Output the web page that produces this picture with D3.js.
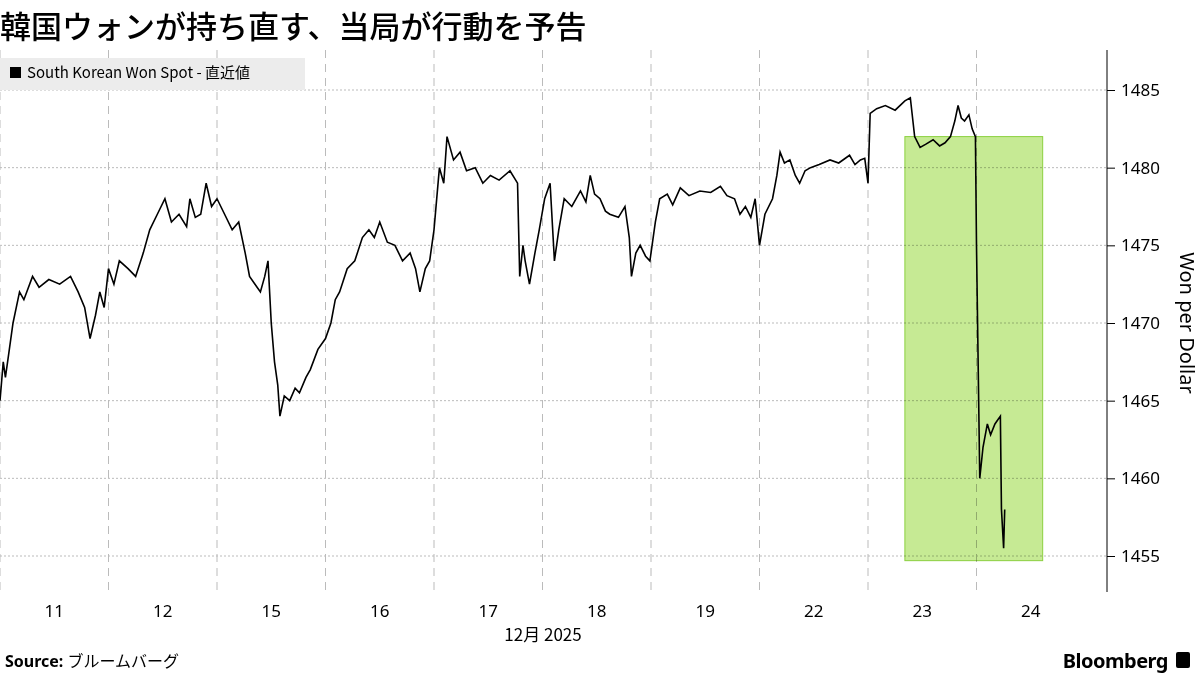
<!DOCTYPE html>
<html><head><meta charset="utf-8">
<script src="https://cdn.jsdelivr.net/npm/d3@7"></script>
<style>body{margin:0;background:#fff;font-family:"Noto Sans CJK JP","Noto Sans",sans-serif}</style>
</head><body><div id="chart"></div>
<script>
// day labels, one per trading day
var days = ["11","12","15","16","17","18","19","22","23","24"];
// price points: [day position (day index + fraction of day), won per dollar]
var d11 = [[0,1465],[0.03,1467.5],[0.05,1466.5],[0.08,1468],[0.12,1470],[0.18,1472],[0.22,1471.5],[0.3,1473],[0.36,1472.3],[0.45,1472.8],[0.55,1472.5],[0.65,1473],[0.72,1472],[0.78,1471],[0.83,1469],[0.88,1470.5],[0.92,1472],[0.96,1471],[1.0,1473.5]];
var d12 = [[1.05,1472.5],[1.1,1474],[1.18,1473.5],[1.25,1473],[1.32,1474.5],[1.38,1476],[1.45,1477],[1.52,1478],[1.58,1476.5],[1.65,1477],[1.72,1476.2],[1.75,1478],[1.8,1476.8],[1.85,1477],[1.9,1479],[1.95,1477.5],[2.0,1478]];
var d15 = [[2.07,1477],[2.14,1476],[2.2,1476.5],[2.26,1474.5],[2.3,1473],[2.35,1472.5],[2.4,1472],[2.44,1473],[2.47,1474],[2.5,1470],[2.53,1467.5],[2.56,1466],[2.58,1464],[2.62,1465.3],[2.67,1465],[2.72,1465.8],[2.76,1465.5],[2.82,1466.5],[2.86,1467],[2.93,1468.3],[3.0,1469]];
var d16 = [[3.05,1470],[3.09,1471.5],[3.13,1472],[3.2,1473.5],[3.27,1474],[3.34,1475.5],[3.4,1476],[3.45,1475.5],[3.5,1476.5],[3.57,1475.2],[3.64,1475],[3.71,1474],[3.78,1474.5],[3.83,1473.5],[3.87,1472],[3.92,1473.5],[3.96,1474],[4.0,1476]];
var d17 = [[4.05,1480],[4.09,1479],[4.12,1482],[4.18,1480.5],[4.24,1481],[4.3,1479.8],[4.38,1480],[4.45,1479],[4.52,1479.5],[4.6,1479.2],[4.7,1479.8],[4.77,1479],[4.79,1473],[4.82,1475],[4.84,1474],[4.88,1472.5],[4.93,1474.5],[4.97,1476],[5.02,1478]];
var d18 = [[5.07,1479],[5.11,1474],[5.15,1476],[5.2,1478],[5.27,1477.5],[5.35,1478.5],[5.4,1477.8],[5.44,1479.5],[5.48,1478.3],[5.53,1478],[5.58,1477.2],[5.62,1477],[5.7,1476.8],[5.76,1477.5],[5.8,1475.5],[5.82,1473],[5.86,1474.5],[5.9,1475],[5.95,1474.3],[5.99,1474]];
var d19 = [[6.04,1476.5],[6.08,1478],[6.15,1478.3],[6.2,1477.6],[6.27,1478.7],[6.35,1478.2],[6.45,1478.5],[6.55,1478.4],[6.64,1478.8],[6.7,1478.2],[6.77,1478],[6.82,1477],[6.87,1477.5],[6.92,1476.8],[6.96,1478],[7.0,1475]];
var d22 = [[7.05,1477],[7.12,1478],[7.16,1479.5],[7.19,1481],[7.23,1480.3],[7.28,1480.5],[7.33,1479.5],[7.37,1479],[7.42,1479.8],[7.47,1480],[7.55,1480.2],[7.65,1480.5],[7.73,1480.3],[7.83,1480.8],[7.88,1480.2],[7.93,1480.5],[7.97,1480.6],[8.0,1479]];
var d23 = [[8.02,1483.5],[8.08,1483.8],[8.16,1484],[8.25,1483.7],[8.34,1484.3],[8.39,1484.5],[8.43,1482],[8.48,1481.3],[8.53,1481.5],[8.6,1481.8],[8.66,1481.4],[8.71,1481.6],[8.76,1482],[8.8,1483],[8.83,1484],[8.86,1483.2],[8.89,1483],[8.93,1483.4],[8.96,1482.5],[8.99,1482]];
var d24 = [[9.0,1475],[9.01,1470],[9.03,1460],[9.06,1462],[9.1,1463.5],[9.13,1462.8],[9.17,1463.5],[9.2,1463.8],[9.22,1464],[9.23,1458],[9.25,1455.5],[9.26,1458]];
var series = d11.concat(d12,d15,d16,d17,d18,d19,d22,d23,d24);
var yTicks = [1455,1460,1465,1470,1475,1480,1485];
var highlight = {x0:8.34, x1:9.61, y0:1454.7, y1:1482};

var w = 1200, h = 675;
var svg = d3.select("#chart").append("svg").attr("width",w).attr("height",h);

var x = d3.scaleLinear().domain([0,10]).range([0,1085]);
var y = d3.scaleLinear().domain([1455,1485]).range([556,90]);

svg.append("text").attr("x",0).attr("y",38).attr("font-size",31).attr("font-weight",500).attr("fill","#000")
   .text("韓国ウォンが持ち直す、当局が行動を予告");

// grid
svg.selectAll(".hg").data(yTicks).enter().append("line")
   .attr("x1",0).attr("x2",1107).attr("y1",d=>y(d)).attr("y2",d=>y(d))
   .attr("stroke","#bbb").attr("stroke-dasharray","2,2");
svg.selectAll(".vg").data(d3.range(0,10)).enter().append("line")
   .attr("x1",d=>x(d)).attr("x2",d=>x(d)).attr("y1",50).attr("y2",592)
   .attr("stroke","#bbb").attr("stroke-dasharray","8,6");

// legend
svg.append("rect").attr("x",0).attr("y",58).attr("width",305).attr("height",32).attr("fill","#ececec");
svg.append("rect").attr("x",10).attr("y",67).attr("width",11).attr("height",11).attr("fill","#000");
svg.append("text").attr("x",27).attr("y",78).attr("font-size",15).text("South Korean Won Spot - 直近値");

// line
var line = d3.line().x(d=>x(d[0])).y(d=>y(d[1]));
svg.append("path").datum(series).attr("d",line).attr("fill","none").attr("stroke","#000").attr("stroke-width",1.6);

// highlight box
svg.append("rect").attr("x",x(highlight.x0)).attr("y",y(highlight.y1))
   .attr("width",x(highlight.x1)-x(highlight.x0)).attr("height",y(highlight.y0)-y(highlight.y1))
   .attr("fill","#c6ea94").attr("stroke","#8cd040").style("mix-blend-mode","multiply");

// y axis
var yAxis = d3.axisRight(y).tickValues(yTicks).tickSize(8).tickPadding(6).tickFormat(d3.format("d"));
var ga = svg.append("g").attr("transform","translate(1107,0)").call(yAxis);
ga.select(".domain").attr("d","M0,50V592");
ga.selectAll("text").attr("font-size",17).attr("font-family","Noto Sans");
svg.append("text").attr("transform","translate(1180,323) rotate(90)").attr("text-anchor","middle")
   .attr("font-size",20).attr("font-family","Noto Sans").text("Won per Dollar");

// x labels
svg.selectAll(".xl").data(days).enter().append("text")
   .attr("x",(d,i)=>x(i+0.5)).attr("y",617).attr("text-anchor","middle")
   .attr("font-size",17).attr("font-family","Noto Sans").text(d=>d);
svg.append("text").attr("x",543).attr("y",641).attr("text-anchor","middle").attr("font-size",17).text("12月 2025");

// footer
var src = svg.append("text").attr("x",5).attr("y",667).attr("font-size",16);
src.append("tspan").attr("font-weight","bold").attr("font-family","Noto Sans").text("Source: ");
src.append("tspan").text("ブルームバーグ");
svg.append("text").attr("x",1168).attr("y",668).attr("text-anchor","end").attr("font-size",20)
   .attr("font-weight","bold").attr("font-family","Noto Sans").attr("letter-spacing",-0.5).text("Bloomberg");
svg.append("rect").attr("x",1176).attr("y",652).attr("width",14).attr("height",16).attr("rx",2).attr("fill","#000");
</script>
</body></html>
